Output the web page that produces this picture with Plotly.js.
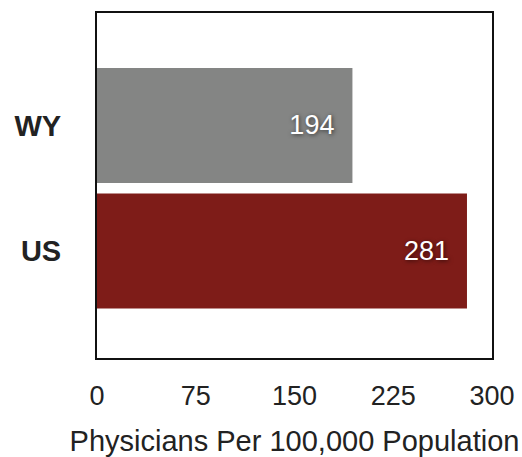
<!DOCTYPE html>
<html>
<head>
<meta charset="utf-8">
<script src="https://cdn.plot.ly/plotly-3.0.1.min.js"></script>
<style>html,body{margin:0;padding:0;background:#fff;}#chart{width:522px;height:457px;}</style>
</head>
<body>
<div id="chart"></div>
<script>
var categories = ['WY', 'US'];
var values = [194, 281];
var barColors = ['#848584', '#7e1c18'];
var xTicks = [0, 75, 150, 225, 300];
var xTitle = 'Physicians Per 100,000 Population';

var FONT = 'Liberation Sans, Arial, Helvetica, sans-serif';

var trace = {
  type: 'bar',
  orientation: 'h',
  y: categories,
  x: values,
  marker: {color: barColors, line: {width: 0}},
  text: values.map(function(v){ return v + '\u00a0\u00a0'; }),
  textposition: 'inside',
  insidetextanchor: 'end',
  textangle: 0,
  textfont: {family: FONT, size: 27, color: '#ffffff', shadow: '1px 1px 4px rgba(0,0,0,0.6)'},
  hoverinfo: 'none',
  cliponaxis: false
};

var layout = {
  width: 522,
  height: 457,
  margin: {l: 97, r: 30, t: 13, b: 99},
  paper_bgcolor: '#ffffff',
  plot_bgcolor: '#ffffff',
  showlegend: false,
  bargap: 0.084,
  font: {family: FONT, size: 27, color: '#222'},
  xaxis: {
    range: [0, 300],
    tickvals: xTicks,
    ticktext: xTicks.map(String),
    showgrid: false,
    zeroline: false,
    showline: true,
    mirror: true,
    linecolor: '#111',
    linewidth: 2,
    ticks: '',
    ticklabelstandoff: 13,
    tickfont: {family: FONT, size: 27, color: '#222'},
    title: {text: xTitle, font: {family: FONT, size: 29, color: '#222'}, standoff: 21}
  },
  yaxis: {
    type: 'category',
    categoryorder: 'array',
    categoryarray: categories,
    range: [1.853, -0.896],
    showgrid: false,
    zeroline: false,
    showline: true,
    mirror: true,
    linecolor: '#111',
    linewidth: 2,
    ticks: '',
    ticklabelstandoff: 28,
    tickfont: {family: FONT, size: 29, color: '#222', weight: 'bold'}
  }
};

Plotly.newPlot('chart', [trace], layout, {displayModeBar: false, staticPlot: true});
</script>
</body>
</html>
